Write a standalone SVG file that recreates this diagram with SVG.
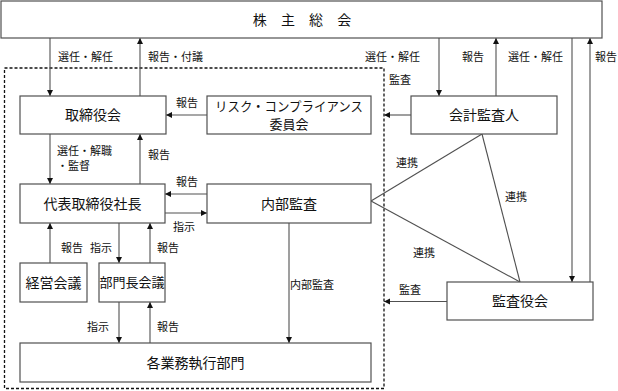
<svg xmlns="http://www.w3.org/2000/svg" width="618" height="391" viewBox="0 0 618 391">
<style>
.box{fill:#fff;stroke:#505050;stroke-width:1.2}
.nt{font-family:"Noto Sans CJK JP","Noto Sans",sans-serif;font-size:14px;fill:#111;text-anchor:middle}
.lb{font-family:"Noto Sans CJK JP","Noto Sans",sans-serif;font-size:11px;fill:#111}
.ln{fill:none;stroke:#505050;stroke-width:1.1}
.ar{fill:none;stroke:#505050;stroke-width:1.1;marker-end:url(#ah)}
</style>
<defs>
<marker id="ah" markerUnits="userSpaceOnUse" markerWidth="7" markerHeight="7" refX="6" refY="3" orient="auto">
<path d="M0,0 L6,3 L0,6 z" fill="#111"/>
</marker>
</defs>
<rect width="618" height="391" fill="#fff"/>
<rect id="boundary" x="4.5" y="68" width="379.5" height="320.5" fill="none" stroke="#111" stroke-width="1.3" stroke-dasharray="3,2"/>
<g id="connectors">
<line class="ar" x1="50" y1="38" x2="50" y2="96"/>
<line class="ar" x1="140" y1="96" x2="140" y2="38"/>
<line class="ar" x1="439" y1="38" x2="439" y2="96"/>
<line class="ar" x1="496" y1="96" x2="496" y2="38"/>
<line class="ar" x1="572" y1="38" x2="572" y2="282"/>
<line class="ar" x1="590" y1="282" x2="590" y2="38"/>
<line class="ar" x1="207" y1="115" x2="166" y2="115"/>
<line class="ar" x1="411" y1="115" x2="384" y2="115"/>
<line class="ar" x1="50" y1="134" x2="50" y2="184"/>
<line class="ar" x1="140" y1="184" x2="140" y2="134"/>
<line class="ar" x1="207" y1="194" x2="165" y2="194"/>
<line class="ar" x1="165" y1="213" x2="207" y2="213"/>
<line class="ar" x1="50" y1="263" x2="50" y2="223"/>
<line class="ar" x1="119" y1="223" x2="119" y2="263"/>
<line class="ar" x1="150" y1="263" x2="150" y2="223"/>
<line class="ar" x1="119" y1="302" x2="119" y2="343"/>
<line class="ar" x1="150" y1="343" x2="150" y2="302"/>
<line class="ar" x1="289" y1="223" x2="289" y2="343"/>
<line class="ar" x1="447" y1="301.5" x2="384" y2="301.5"/>
<line class="ln" x1="371" y1="201" x2="482" y2="134"/>
<line class="ln" x1="482" y1="134" x2="520" y2="282"/>
<line class="ln" x1="371" y1="201" x2="520" y2="282"/>
<text class="lb" x="58" y="61">選任・解任</text>
<text class="lb" x="148" y="61">報告・付議</text>
<text class="lb" x="365" y="61">選任・解任</text>
<text class="lb" x="462" y="61">報告</text>
<text class="lb" x="508" y="61">選任・解任</text>
<text class="lb" x="595" y="61">報告</text>
<text class="lb" x="389" y="84">監査</text>
<text class="lb" x="176" y="107">報告</text>
<text class="lb" x="57" y="155">選任・解職</text>
<text class="lb" x="57" y="170">・監督</text>
<text class="lb" x="148" y="159">報告</text>
<text class="lb" x="176" y="186">報告</text>
<text class="lb" x="173" y="231">指示</text>
<text class="lb" x="61" y="252">報告</text>
<text class="lb" x="90" y="252">指示</text>
<text class="lb" x="157" y="252">報告</text>
<text class="lb" x="87" y="331">指示</text>
<text class="lb" x="157" y="331">報告</text>
<text class="lb" x="290" y="289">内部監査</text>
<text class="lb" x="399" y="294">監査</text>
<text class="lb" x="396" y="167">連携</text>
<text class="lb" x="505" y="201">連携</text>
<text class="lb" x="413" y="257">連携</text>
</g>
<g id="shareholders"><rect class="box" x="1" y="1" width="601" height="37"/><text class="nt" x="302" y="25" word-spacing="11">株 主 総 会</text></g>
<g id="board"><rect class="box" x="20" y="96" width="146" height="38"/><text class="nt" x="93" y="120">取締役会</text></g>
<g id="risk"><rect class="box" x="207" y="96" width="164" height="38"/><text class="nt" x="289" y="111" style="font-size:13px" textLength="148" lengthAdjust="spacingAndGlyphs">リスク・コンプライアンス</text><text class="nt" x="289" y="129" style="font-size:13px">委員会</text></g>
<g id="accountant"><rect class="box" x="411" y="96" width="146" height="38"/><text class="nt" x="484" y="120">会計監査人</text></g>
<g id="president"><rect class="box" x="20" y="184" width="145" height="39"/><text class="nt" x="92.5" y="208.5">代表取締役社長</text></g>
<g id="internal"><rect class="box" x="207" y="184" width="164" height="39"/><text class="nt" x="289" y="208.5">内部監査</text></g>
<g id="mgmt"><rect class="box" x="20" y="263" width="67" height="39"/><text class="nt" x="53.5" y="287.5">経営会議</text></g>
<g id="dept"><rect class="box" x="99" y="263" width="66" height="39"/><text class="nt" x="132" y="287" style="font-size:13px">部門長会議</text></g>
<g id="exec"><rect class="box" x="20" y="343" width="351" height="39"/><text class="nt" x="195.5" y="367.5">各業務執行部門</text></g>
<g id="auditors"><rect class="box" x="447" y="282" width="146" height="38"/><text class="nt" x="520" y="306">監査役会</text></g>
</svg>
